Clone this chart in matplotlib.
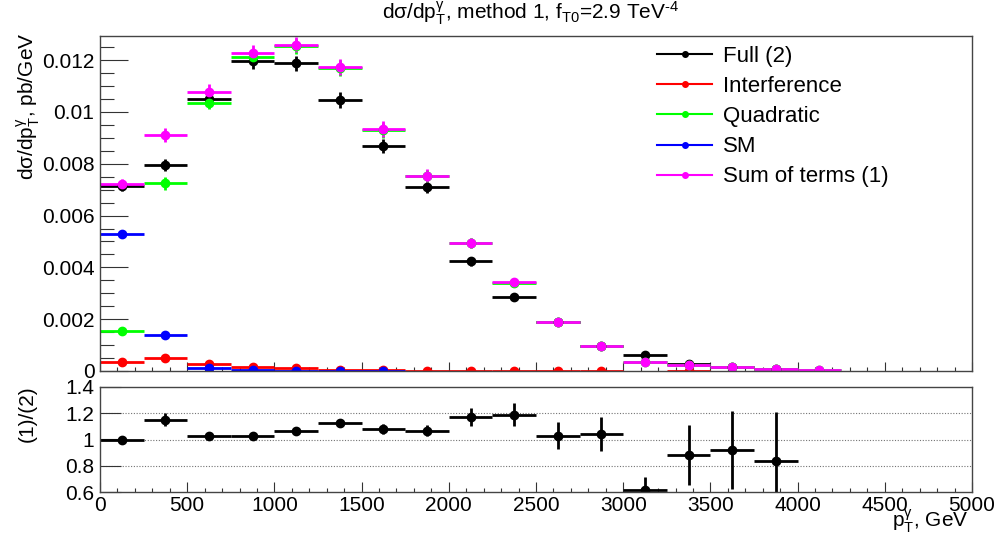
import numpy as np
import matplotlib
matplotlib.use("Agg")
import matplotlib.pyplot as plt
from matplotlib.lines import Line2D
from matplotlib.ticker import MultipleLocator, FuncFormatter

plt.rcParams['font.family'] = ['Liberation Sans', 'DejaVu Sans']
plt.rcParams['mathtext.fontset'] = 'custom'
plt.rcParams['mathtext.rm'] = 'Liberation Sans'
plt.rcParams['mathtext.it'] = 'Liberation Sans:italic'
plt.rcParams['mathtext.default'] = 'regular'

nan = np.nan
# ---- data ----
bin_edges = np.arange(0, 4251, 250)
bin_centers = 0.5 * (bin_edges[:-1] + bin_edges[1:])
bin_halfwidth = 125

full = [0.00715, 0.00796, 0.01050, 0.01196, 0.01188, 0.01045, 0.00868, 0.00710,
        0.00423, 0.00286, 0.00190, 0.00097, 0.00062, 0.00026, 0.000165, 0.00008, nan]
full_err = [0.00022, 0.00023, 0.00027, 0.00029, 0.00029, 0.00031, 0.00027, 0.00023,
            0.00017, 0.00013, 0.00010, 0.00007, 0.00005, 0.00003, 0.00002, 0.00001, nan]

interference = [0.00035, 0.00050, 0.00027, 0.00015, 0.00010, 0.00005, 0.00002, 0.000005,
                0.000003, 0.000002, 0.000002, 0.000001, nan, 0.000001, nan, nan, nan]
interference_err = [0.00002, 0.00002, 0.00001, 0.00001, 0.00001, 0.000005, 0.000003, 0.000002,
                    0.000001, 0.000001, 0.000001, 0.000001, nan, 0.000001, nan, nan, nan]

quadratic = [0.00154, 0.00724, 0.01036, 0.01212, 0.01254, 0.01170, 0.00930, 0.00752,
             0.00494, 0.00341, 0.00189, 0.00096, 0.00036, 0.00023, 0.00014, 0.00007, 0.00002]
quadratic_err = [0.00006, 0.00024, 0.00024, 0.00030, 0.00029, 0.00031, 0.00029, 0.00025,
                 0.00019, 0.00015, 0.00010, 0.00007, 0.00004, 0.00003, 0.00002, 0.00001, 0.00001]

sm = [0.00530, 0.00138, 0.00013, 0.00002, 0.00001, 0.000005, 0.000003,
      nan, nan, nan, nan, nan, nan, nan, nan, nan, nan]
sm_err = [0.00005, 0.00003, 0.00001, 0.000005, 0.000003, 0.000002, 0.000001,
          nan, nan, nan, nan, nan, nan, nan, nan, nan, nan]

sum_terms = [0.00720, 0.00910, 0.01077, 0.01228, 0.01260, 0.01174, 0.00933, 0.00754,
             0.00495, 0.00342, 0.00190, 0.00097, 0.00036, 0.00023, 0.00014, 0.00007, 0.00002]
sum_err = [0.00022, 0.00027, 0.00031, 0.00032, 0.00029, 0.00032, 0.00030, 0.00026,
           0.00020, 0.00015, 0.00010, 0.00007, 0.00004, 0.00003, 0.00002, 0.00001, 0.00001]

ratio = [1.00, 1.15, 1.025, 1.03, 1.068, 1.127, 1.08, 1.068,
         1.17, 1.19, 1.03, 1.045, 0.615, 0.88, 0.92, 0.84, nan]
ratio_err = [0.02, 0.05, 0.03, 0.03, 0.02, 0.03, 0.04, 0.04,
             0.07, 0.09, 0.10, 0.13, 0.10, 0.23, 0.30, 0.37, nan]

series = [
    ("Full (2)", full, full_err, "#000000"),
    ("Interference", interference, interference_err, "#ff0000"),
    ("Quadratic", quadratic, quadratic_err, "#00ff00"),
    ("SM", sm, sm_err, "#0000ff"),
    ("Sum of terms (1)", sum_terms, sum_err, "#ff00ff"),
]

FS = 15
LFS = 16
W, H = 1000, 542
fig = plt.figure(figsize=(W / 100, H / 100), dpi=100)

ax1 = fig.add_axes([100 / W, 1 - 371 / H, 872 / W, (371 - 36) / H])
ax2 = fig.add_axes([100 / W, 1 - 492 / H, 872 / W, (492 - 387) / H])

for name, vals, errs, col in series:
    ax1.errorbar(bin_centers, vals, xerr=bin_halfwidth, yerr=errs, fmt='o', color=col,
                 ms=6, elinewidth=2, capsize=0, clip_on=True)

ax1.set_xlim(0, 5000)
ax1.set_ylim(0, 0.01293)
ax2.set_xlim(0, 5000)
ax2.set_ylim(0.6, 1.4)

for y in (0.8, 1.0, 1.2):
    ax2.axhline(y, color='0.45', lw=0.8, ls=(0, (1, 1.5)), zorder=0)

ax2.errorbar(bin_centers, ratio, xerr=bin_halfwidth, yerr=ratio_err, fmt='o', color='black',
             ms=6, elinewidth=2, capsize=0)

fmt = FuncFormatter(lambda v, p: '%g' % round(v, 6))
for ax in (ax1, ax2):
    ax.xaxis.set_major_locator(MultipleLocator(500))
    ax.xaxis.set_minor_locator(MultipleLocator(100))
    for s in ax.spines.values():
        s.set_color('#444444')
        s.set_linewidth(1.0)
    ax.tick_params(which='both', direction='in', top=False, right=False,
                   color='#333333', labelsize=FS, width=0.8)

ax1.yaxis.set_major_locator(MultipleLocator(0.002))
ax1.yaxis.set_minor_locator(MultipleLocator(0.0005))
ax1.yaxis.set_major_formatter(fmt)
ax1.tick_params(axis='y', which='major', length=20, pad=4)
ax1.tick_params(axis='y', which='minor', length=10)
ax1.tick_params(axis='x', which='major', length=6.5)
ax1.tick_params(axis='x', which='minor', length=3)
ax1.tick_params(axis='x', labelbottom=False)

ax2.yaxis.set_major_locator(MultipleLocator(0.2))
ax2.yaxis.set_major_formatter(fmt)
ax2.xaxis.set_major_formatter(fmt)
ax2.tick_params(axis='y', which='major', length=15, pad=4)
ax2.tick_params(axis='y', which='minor', length=0)
ax2.tick_params(axis='x', which='major', length=7, pad=3)
ax2.tick_params(axis='x', which='minor', length=3)

# titles / labels
fig.text(0.531, 1 - 13 / H,
         r'd$\sigma$/d$p_{T}^{\gamma}$, method 1, f$_{T0}$=2.9 TeV$^{' + '\u2010' + r'4}$',
         ha='center', va='center', fontsize=FS)
fig.text(28 / W, 1 - 33 / H, r'd$\sigma$/d$p_{T}^{\gamma}$, pb/GeV', rotation=90,
         ha='center', va='top', fontsize=FS)
fig.text(27 / W, 1 - 385 / H, '(1)/(2)', rotation=90, ha='center', va='top', fontsize=FS)
fig.text(969 / W, 1 - 527 / H, r'$p_{T}^{\gamma}$, GeV', ha='right', va='baseline', fontsize=FS)

handles = [Line2D([], [], color=col, lw=1.5, marker='o', ms=4) for _, _, _, col in series]
labels = [name for name, _, _, _ in series]
ax1.legend(handles, labels, loc='upper left', bbox_to_anchor=(657 / W, 1 - 46 / H),
           bbox_transform=fig.transFigure, frameon=False, fontsize=LFS,
           handlelength=2.48, handletextpad=0.5, labelspacing=0.41,
           borderpad=0, borderaxespad=0)

fig.savefig('out.png', dpi=100)
